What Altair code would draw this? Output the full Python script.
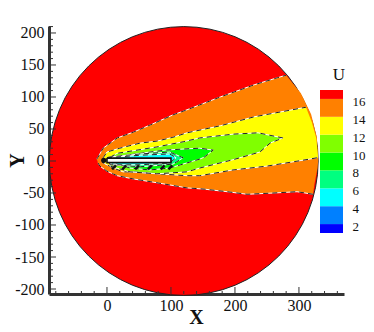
import altair as alt
import pandas as pd

XDOM = [-90.6, 370.4]
YDOM = [-207.8, 210.9]
xs = alt.Scale(domain=XDOM, nice=False, zero=False)
ys = alt.Scale(domain=YDOM, nice=False, zero=False)

# contour regions in data coordinates (x, y): upper chain, lower chain, closing edge
orange_up = [(-16,3),(-14,6),(-6,20),(16,36),(41,45),(67,56),(103,72),(125,80),(177,100),(230,119),(266,130),(280,134)]
orange_edge = [(303,106),(319,73),(328,37),(330,0),(329,-11),(324,-37)]
orange_lo = [(322,-52),(297,-48),(261,-50),(219,-52),(188,-48),(152,-44),(125,-42),(78,-34),(41,-28),(16,-23),(0,-16),(-11,-8),(-14,-3)]

yellow_up = [(-6,5),(0,14),(20,20),(52,28),(78,31),(103,37),(125,44),(177,55),(230,69),(311,84)]
yellow_edge = [(320,61),(327,36),(330,5)]
yellow_lo = [(328,5),(317,3),(250,-8),(197,-14),(145,-23),(125,-23),(80,-20),(40,-17),(25,-17),(10,-11),(-8,-2)]

lime_up = [(5,6),(16,12),(78,22),(119,30),(145,36),(198,42),(236,44),(275,36)]
lime_lo = [(255,28),(239,14),(197,2),(145,-11),(125,-17),(78,-20),(36,-17),(5,-8)]

green_up = [(9,6),(52,12),(91,17),(125,19),(145,20),(166,17)]
green_lo = [(152,6),(145,3),(125,-3),(98,-11),(67,-14),(36,-11),(9,-3)]

spring_up = [(2,6),(52,11),(98,14),(119,5),(103,-5),(52,-9),(8,-6)]
cyan_up = [(0,5),(52,9),(98,11),(108,5),(98,-3),(52,-6),(5,-6)]

body_x = [0, 100, 100, 0, 0]
body_y = [4.5, 4.5, -2.5, -2.5, 4.5]

# hatch of tightly packed contours under the body: start and end of each stroke
hatch_x = [8, 24, 44, 64, 84, 96]
hatch_x2 = [14, 30, 50, 70, 90, 102]
hatch_y = [-13, -13, -13, -13, -13, -13]
hatch_y2 = [-7, -7, -7, -7, -7, -7]

# circle
cx, cy, R = [120], [0], [210]

# colour bar
band_lo = [1, 2, 4, 6, 8, 10, 12, 14, 16]
band_hi = [2, 4, 6, 8, 10, 12, 14, 16, 17]
band_col = ["#0000ff", "#0080ff", "#00ffff", "#00ff80", "#00ff00", "#80ff00", "#ffff00", "#ff8000", "#ff0000"]
levels = [2, 4, 6, 8, 10, 12, 14, 16]

x_major = [0, 100, 200, 300]
x_minor = [-80, -60, -40, -20, 20, 40, 60, 80, 120, 140, 160, 180, 220, 240, 260, 280, 320, 340, 360]
y_major = [-200, -150, -100, -50, 0, 50, 100, 150, 200]
y_minor = [v for v in range(-200, 211, 10) if v % 50]

SERIF = "Liberation Serif"
AXC = "#333333"
INK = "#111111"


def table(pts):
    return pd.DataFrame({"x": [p[0] for p in pts], "y": [p[1] for p in pts], "i": list(range(len(pts)))})


def poly(pts, colour):
    return alt.Chart(table(pts)).mark_line(fill=colour, strokeWidth=0, interpolate="linear").encode(
        x=alt.X("x:Q", scale=xs, axis=None), y=alt.Y("y:Q", scale=ys, axis=None), order="i:Q")


def contour(pts):
    t = table(pts)
    enc = dict(x=alt.X("x:Q", scale=xs, axis=None), y=alt.Y("y:Q", scale=ys, axis=None), order="i:Q")
    return [alt.Chart(t).mark_line(color="white", strokeWidth=1).encode(**enc),
            alt.Chart(t).mark_line(color="#222222", strokeWidth=1, strokeDash=[5, 4]).encode(**enc)]


axes = alt.Chart(pd.DataFrame({"x": x_major, "y": [0, 0, 0, 0]})).mark_point(opacity=0).encode(
    x=alt.X("x:Q", scale=xs, axis=alt.Axis(values=x_major, title="X", titleFont=SERIF, titleFontSize=20,
                                           titleFontWeight="bold", titleColor=INK, titleX=147, titleY=23, titleBaseline="middle",
                                           labelFont=SERIF, labelFontSize=16, labelColor=INK, labelPadding=3,
                                           tickSize=0, grid=False, domainColor=AXC, domainWidth=3)),
    y=alt.Y("y:Q", scale=ys, axis=alt.Axis(values=y_major, title="Y", titleFont=SERIF, titleFontSize=20,
                                           titleFontWeight="bold", titleColor=INK, titleX=-32, titleY=134, titleBaseline="middle",
                                           labelFont=SERIF, labelFontSize=16, labelColor=INK, labelPadding=5,
                                           labelExpr="'' + datum.value",
                                           tickSize=0, grid=False, domainColor=AXC, domainWidth=3)),
)

disc = alt.Chart(pd.DataFrame({"x": cx, "y": cy, "r": R})).mark_arc(
    theta=0, theta2=6.2832, fill="#ff0000", stroke="#222222", strokeWidth=1).encode(
    x=alt.X("x:Q", scale=xs, axis=None), y=alt.Y("y:Q", scale=ys, axis=None),
    radius=alt.Radius("r:Q", scale=alt.Scale(domain=[0, 210], range=[0, 134.4], type="linear")))

layers = [disc]
layers.append(poly(orange_up + orange_edge + orange_lo, "#ff8000"))
layers.append(poly(yellow_up + yellow_edge + yellow_lo, "#ffff00"))
layers.append(poly(lime_up + lime_lo, "#80ff00"))
layers.append(poly(green_up + green_lo, "#00ff00"))
layers.append(poly(spring_up, "#00ff80"))
layers.append(poly(cyan_up, "#00ffff"))
layers += contour(orange_up) + contour(orange_lo)
layers += contour(yellow_up) + contour(yellow_lo)
layers += contour(lime_up + lime_lo + lime_up[:1])
layers += contour(green_up + green_lo + green_up[:1])
layers += contour(spring_up + spring_up[:1])
layers += contour(cyan_up + cyan_up[:1])

hatch = alt.Chart(pd.DataFrame({"x": hatch_x, "x2": hatch_x2, "y": hatch_y, "y2": hatch_y2})).mark_rule(
    color=INK, strokeWidth=2.5).encode(
    x=alt.X("x:Q", scale=xs, axis=None), x2="x2:Q", y=alt.Y("y:Q", scale=ys, axis=None), y2="y2:Q")
layers.append(hatch)

nose = alt.Chart(pd.DataFrame({"x": [-5], "y": [1]})).mark_point(filled=True, color=INK, size=28, opacity=1).encode(
    x=alt.X("x:Q", scale=xs, axis=None), y=alt.Y("y:Q", scale=ys, axis=None))
layers.append(nose)

body = pd.DataFrame({"x": body_x, "y": body_y, "i": range(5)})
layers.append(alt.Chart(body).mark_line(fill="white", color=INK, strokeWidth=1.6).encode(
    x=alt.X("x:Q", scale=xs, axis=None), y=alt.Y("y:Q", scale=ys, axis=None), order="i:Q"))


def xticks(vals, length):
    return alt.Chart(pd.DataFrame({"x": vals})).mark_rule(color=AXC, strokeWidth=1).encode(
        x=alt.X("x:Q", scale=xs, axis=None), y=alt.value(268), y2=alt.value(268 - length))


def yticks(vals, length):
    return alt.Chart(pd.DataFrame({"y": vals})).mark_rule(color=AXC, strokeWidth=1).encode(
        y=alt.Y("y:Q", scale=ys, axis=None), x=alt.value(0), x2=alt.value(length))


layers += [xticks(x_major, 7), xticks(x_minor, 3), yticks(y_major, 7), yticks(y_minor, 4)]
plot = alt.layer(*layers)

bar_y = alt.Scale(domain=[1, 17], range=[207, 64], nice=False, zero=False)
bar_df = pd.DataFrame({"lo": band_lo, "hi": band_hi, "c": band_col})
bar = alt.Chart(bar_df).mark_rect().encode(
    x=alt.value(271), x2=alt.value(294),
    y=alt.Y("lo:Q", scale=bar_y, axis=None), y2="hi:Q",
    color=alt.Color("c:N", scale=None))
lab = alt.Chart(pd.DataFrame({"v": levels})).mark_text(
    font=SERIF, fontSize=13, align="left", baseline="middle", dy=3, color=INK).encode(
    x=alt.value(303.5), y=alt.Y("v:Q", scale=bar_y, axis=None), text="v:Q")
utitle = alt.Chart(pd.DataFrame({"t": ["U"]})).mark_text(
    font=SERIF, fontSize=17, align="center", baseline="middle", color=INK).encode(
    x=alt.value(290), y=alt.value(49), text="t:N")
cbar = alt.layer(bar, lab, utitle)

chart = alt.layer(plot, axes, cbar).resolve_scale(x="independent", y="independent").properties(
    width=295, height=268, autosize="none",
    padding={"left": 41, "top": 18, "right": 22, "bottom": 30},
).configure_view(stroke=None)

chart.save("out.html", embed_options={"renderer": "svg", "actions": False})
